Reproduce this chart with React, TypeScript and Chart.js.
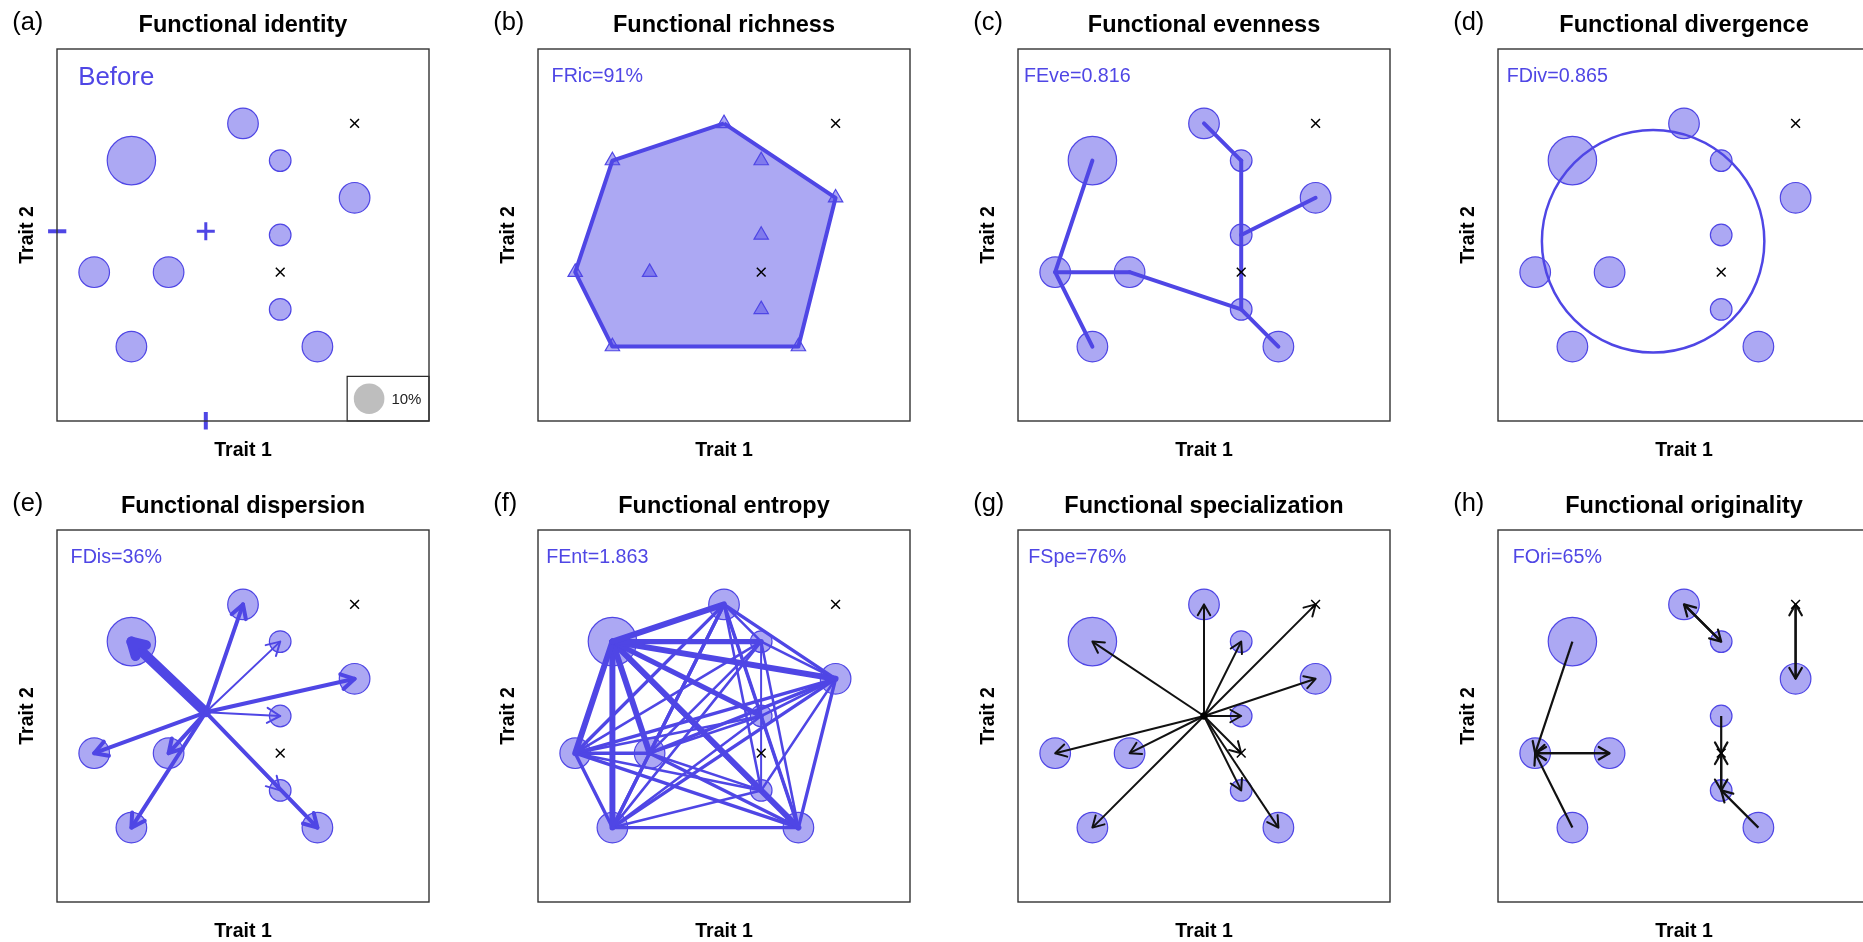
import React, { useEffect, useRef } from 'react';
import { Chart, registerables } from 'chart.js';
Chart.register(...registerables);

// ---------------- data ----------------
const speciesX = [5, 2, 6, 8, 6, 1, 3, 6, 2, 7];
const speciesY = [8, 7, 7, 6, 5, 4, 4, 3, 2, 2];
const abundance = [10, 25, 5, 10, 5, 10, 10, 5, 10, 10]; // %
const absentX = [8, 6];
const absentY = [8, 4];
const cwmXY = [4.0, 5.1];
const hullIdx = [0, 3, 9, 8, 5, 1, 0];
const mstEdges = [[1, 5], [5, 8], [5, 6], [6, 7], [7, 9], [7, 4], [4, 2], [2, 0], [4, 3]];
const divCenterXY = [4.17, 4.83];
const divRadius = [2.99];
const speCenterXY = [5, 5];
const oriFrom = [1, 8, 6, 5, 0, 2, 3, 10, 4, 7, 11, 9];
const oriTo = [5, 5, 5, 6, 2, 0, 10, 3, 11, 11, 7, 7];
const legendAbundance = [10];
const legendLabel = ['10%'];
const panelLabels = ['(a)', '(b)', '(c)', '(d)', '(e)', '(f)', '(g)', '(h)'];
const panelTitles = [
  'Functional identity', 'Functional richness', 'Functional evenness', 'Functional divergence',
  'Functional dispersion', 'Functional entropy', 'Functional specialization', 'Functional originality',
];
const panelStats = ['Before', 'FRic=91%', 'FEve=0.816', 'FDiv=0.865', 'FDis=36%', 'FEnt=1.863', 'FSpe=76%', 'FOri=65%'];
const axisTitles = ['Trait 1', 'Trait 2'];

// ---------------- styles ----------------
const BLUE = '#4F46E5';
const FILL = 'rgba(79,70,229,0.47)';
const BLACK = '#111111';
const FONT = '"Liberation Sans", Arial, Helvetica, sans-serif';
const COL_X = [0, 481, 961, 1441];
const ROW_Y = [0, 481];

const allX = speciesX.concat(absentX);
const allY = speciesY.concat(absentY);

const bubbleR = (a: number) => 15.3 * Math.sqrt(a / 10);

const speciesBubbles = (order = 10) => ({
  type: 'bubble',
  data: speciesX.map((x, i) => ({ x, y: speciesY[i], r: bubbleR(abundance[i]) })),
  backgroundColor: FILL,
  borderColor: BLUE,
  borderWidth: 1.2,
  order,
});

const absentMarks = (order = 1) => ({
  type: 'scatter',
  data: absentX.map((x, i) => ({ x, y: absentY[i] })),
  pointStyle: 'crossRot',
  pointRadius: 6.2,
  borderColor: '#000',
  backgroundColor: '#000',
  borderWidth: 1.5,
  order,
});

const segment = (
  x1: number, y1: number, x2: number, y2: number,
  color: string, width: number, order: number, arrow = false, headLen = 12, extra: any = {}
) => ({
  type: 'line',
  data: [{ x: x1, y: y1 }, { x: x2, y: y2 }],
  borderColor: color,
  borderWidth: width,
  pointRadius: 0,
  fill: false,
  tension: 0,
  borderCapStyle: 'round',
  order,
  arrowHead: arrow,
  headLen,
  ...extra,
});

// ---------------- plugins ----------------
const arrowPlugin = {
  id: 'arrowHeads',
  afterDatasetDraw(chart: any, args: any) {
    const ds = chart.data.datasets[args.index];
    if (!ds || !ds.arrowHead) return;
    const pts = args.meta.data;
    if (!pts || pts.length < 2) return;
    const p0 = pts[0], p1 = pts[1];
    const ang = Math.atan2(p1.y - p0.y, p1.x - p0.x);
    const L = ds.headLen, a = Math.PI / 6;
    const ctx = chart.ctx;
    ctx.save();
    ctx.strokeStyle = ds.borderColor;
    ctx.lineWidth = ds.borderWidth;
    ctx.lineCap = 'round';
    ctx.lineJoin = 'round';
    ctx.beginPath();
    ctx.moveTo(p1.x - L * Math.cos(ang - a), p1.y - L * Math.sin(ang - a));
    ctx.lineTo(p1.x, p1.y);
    ctx.lineTo(p1.x - L * Math.cos(ang + a), p1.y - L * Math.sin(ang + a));
    ctx.stroke();
    ctx.restore();
  },
};

const decoPlugin = {
  id: 'panelDeco',
  beforeDatasetsDraw(chart: any, _args: any, opts: any) {
    if (!opts.legend) return;
    const { x, y } = chart.scales;
    const ctx = chart.ctx;
    const l = x.getPixelForValue(7.8), r = x.getPixelForValue(10);
    const t = y.getPixelForValue(1.2), b = y.getPixelForValue(0);
    ctx.save();
    ctx.fillStyle = '#fff';
    ctx.fillRect(l, t, r - l, b - t);
    ctx.strokeStyle = '#222';
    ctx.lineWidth = 1.2;
    ctx.strokeRect(l, t, r - l, b - t);
    ctx.restore();
  },
  afterDraw(chart: any, _args: any, opts: any) {
    const ctx = chart.ctx;
    const a = chart.chartArea;
    const cx = (a.left + a.right) / 2;
    ctx.save();
    ctx.strokeStyle = '#333';
    ctx.lineWidth = 1.4;
    ctx.strokeRect(a.left, a.top, a.right - a.left, a.bottom - a.top);
    ctx.fillStyle = '#000';
    ctx.textBaseline = 'alphabetic';
    ctx.textAlign = 'center';
    ctx.font = `bold 23.5px ${FONT}`;
    ctx.fillText(opts.title, cx, a.top - 17);
    ctx.textAlign = 'left';
    ctx.font = `25.5px ${FONT}`;
    ctx.fillText(opts.label, a.left - 44.8, a.top - 19.3);
    ctx.textAlign = 'center';
    ctx.font = `bold 19.5px ${FONT}`;
    ctx.fillText(axisTitles[0], cx, a.bottom + 35.3);
    ctx.save();
    ctx.translate(a.left - 24.5, (a.top + a.bottom) / 2);
    ctx.rotate(-Math.PI / 2);
    ctx.fillText(axisTitles[1], 0, 0);
    ctx.restore();
    ctx.fillStyle = BLUE;
    ctx.font = `${opts.statSize}px ${FONT}`;
    ctx.fillText(opts.stat, a.left + 59.3, a.top + opts.statDy);
    if (opts.legend) {
      const { x, y } = chart.scales;
      ctx.fillStyle = '#222';
      ctx.textAlign = 'left';
      ctx.font = `15px ${FONT}`;
      ctx.fillText(legendLabel[0], x.getPixelForValue(8.99), y.getPixelForValue(0.6) + 5.4);
    }
    ctx.restore();
  },
};

// ---------------- panels ----------------
function panelA() {
  return [
    speciesBubbles(10),
    absentMarks(1),
    {
      type: 'scatter', data: [{ x: cwmXY[0], y: cwmXY[1] }], pointStyle: 'cross', pointRadius: 9,
      borderColor: BLUE, borderWidth: 3, order: 2,
    },
    segment(-0.24, cwmXY[1], 0.25, cwmXY[1], BLUE, 4, 2, false, 0, { clip: false, borderCapStyle: 'butt' }),
    segment(cwmXY[0], 0.245, cwmXY[0], -0.23, BLUE, 4, 2, false, 0, { clip: false, borderCapStyle: 'butt' }),
    {
      type: 'bubble', data: [{ x: 8.39, y: 0.6, r: bubbleR(legendAbundance[0]) }],
      backgroundColor: '#BEBEBE', borderWidth: 0, order: 0,
    },
  ];
}

function panelB() {
  return [
    {
      type: 'line',
      data: hullIdx.map((i) => ({ x: speciesX[i], y: speciesY[i] })),
      borderColor: BLUE, borderWidth: 4, backgroundColor: FILL, fill: 'shape',
      pointRadius: 0, tension: 0, borderJoinStyle: 'round', order: 10,
    },
    {
      type: 'scatter',
      data: speciesX.map((x, i) => ({ x, y: speciesY[i] })),
      pointStyle: 'triangle', pointRadius: 8.3, backgroundColor: FILL, borderColor: BLUE, borderWidth: 1.2, order: 2,
    },
    absentMarks(1),
  ];
}

function panelC() {
  return [
    speciesBubbles(10),
    ...mstEdges.map(([i, j]) => segment(speciesX[i], speciesY[i], speciesX[j], speciesY[j], BLUE, 4, 5)),
    absentMarks(1),
  ];
}

function panelD() {
  return [
    speciesBubbles(10),
    {
      type: 'scatter',
      data: [{ x: divCenterXY[0], y: divCenterXY[1] }],
      pointRadius: (ctx: any) => {
        const s = ctx.chart.scales.x;
        return Math.abs(s.getPixelForValue(divCenterXY[0] + divRadius[0]) - s.getPixelForValue(divCenterXY[0]));
      },
      pointBackgroundColor: 'rgba(0,0,0,0)',
      pointBorderColor: BLUE,
      pointBorderWidth: 2.5,
      order: 5,
    },
    absentMarks(1),
  ];
}

function panelE() {
  return [
    speciesBubbles(10),
    ...speciesX.map((x, i) => segment(cwmXY[0], cwmXY[1], x, speciesY[i], BLUE, 0.4 * abundance[i], 5, true, 15)),
    absentMarks(1),
  ];
}

function panelF() {
  const edges: any[] = [];
  for (let i = 0; i < speciesX.length; i++) {
    for (let j = i + 1; j < speciesX.length; j++) {
      edges.push(segment(speciesX[i], speciesY[i], speciesX[j], speciesY[j], BLUE, 0.17 * (abundance[i] + abundance[j]), 5));
    }
  }
  return [speciesBubbles(10), ...edges, absentMarks(1)];
}

function panelG() {
  return [
    speciesBubbles(10),
    ...allX.map((x, i) => segment(speCenterXY[0], speCenterXY[1], x, allY[i], BLACK, 2, 5, true, 12.5, { borderCapStyle: 'butt' })),
    {
      type: 'scatter', data: [{ x: speCenterXY[0], y: speCenterXY[1] }], pointRadius: 3.8,
      backgroundColor: '#000', borderColor: '#000', borderWidth: 0, order: 0,
    },
    absentMarks(1),
  ];
}

function panelH() {
  return [
    speciesBubbles(10),
    ...oriFrom.map((f, k) => segment(allX[f], allY[f], allX[oriTo[k]], allY[oriTo[k]], BLACK, 2.2, 5, true, 12.5, { borderCapStyle: 'butt' })),
    absentMarks(1),
  ];
}

const builders = [panelA, panelB, panelC, panelD, panelE, panelF, panelG, panelH];

function makeConfig(i: number, datasets: any[]): any {
  return {
    type: 'scatter',
    data: { datasets },
    options: {
      responsive: false,
      animation: false,
      events: [],
      layout: { padding: { left: 57, top: 49, right: 52, bottom: 60 } },
      scales: {
        x: { type: 'linear', min: 0, max: 10, display: false },
        y: { type: 'linear', min: 0, max: 10, display: false },
      },
      plugins: {
        legend: { display: false },
        tooltip: { enabled: false },
        panelDeco: {
          title: panelTitles[i],
          label: panelLabels[i],
          stat: panelStats[i],
          statSize: i === 0 ? 25.8 : 19.7,
          statDy: i === 0 ? 35.7 : 33.4,
          legend: i === 0,
        },
      },
    },
    plugins: [decoPlugin, arrowPlugin],
  };
}

export default function App() {
  const refs = useRef<(HTMLCanvasElement | null)[]>([]);
  useEffect(() => {
    const charts = builders.map((b, i) => new Chart(refs.current[i] as HTMLCanvasElement, makeConfig(i, b())));
    return () => {
      charts.forEach((c) => c.destroy());
    };
  }, []);
  return (
    <div style={{ position: 'fixed', left: 0, top: 0, width: 1863, height: 942, overflow: 'hidden', background: '#fff' }}>
      {panelTitles.map((t, i) => (
        <canvas
          key={t}
          ref={(el) => {
            refs.current[i] = el;
          }}
          width={481}
          height={481}
          style={{ position: 'absolute', left: COL_X[i % 4], top: ROW_Y[Math.floor(i / 4)], width: 481, height: 481 }}
        />
      ))}
    </div>
  );
}
